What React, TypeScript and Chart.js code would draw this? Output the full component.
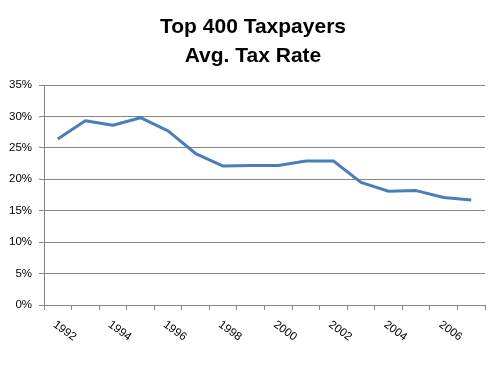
import React, { useEffect, useRef } from "react";
import { Chart, registerables } from "chart.js";

Chart.register(...registerables);

const years = ["1992","1993","1994","1995","1996","1997","1998","1999","2000","2001","2002","2003","2004","2005","2006","2007"];
const taxRate = [26.4, 29.3, 28.6, 29.8, 27.7, 24.1, 22.1, 22.2, 22.2, 22.9, 22.9, 19.5, 18.1, 18.2, 17.1, 16.7];
const shownYears = ["1992","1994","1996","1998","2000","2002","2004","2006"];
const titleLines = ["Top 400 Taxpayers", "Avg. Tax Rate"];

const FONT = "'Liberation Sans', Arial, sans-serif";
const GRID = "#868686";

const titlePlugin = {
  id: "customTitle",
  afterDraw(chart: any) {
    const ctx = chart.ctx;
    ctx.save();
    ctx.fillStyle = "#000";
    ctx.font = `bold 21px ${FONT}`;
    ctx.textAlign = "center";
    ctx.textBaseline = "alphabetic";
    ctx.fillText(titleLines[0], 253, 33);
    ctx.fillText(titleLines[1], 253, 62);
    ctx.restore();
  },
};

const xLabelPlugin = {
  id: "rotatedXLabels",
  afterDraw(chart: any) {
    const ctx = chart.ctx;
    const xs = chart.scales.x;
    ctx.save();
    ctx.fillStyle = "#000";
    ctx.font = `11.5px ${FONT}`;
    ctx.textAlign = "left";
    ctx.textBaseline = "middle";
    shownYears.forEach((y) => {
      const idx = years.indexOf(y);
      const x = xs.getPixelForValue(idx);
      ctx.save();
      ctx.translate(x - 3.5, xs.top + 18.5);
      ctx.rotate((36 * Math.PI) / 180);
      ctx.fillText(y, 0, 0);
      ctx.restore();
    });
    ctx.restore();
  },
};

export default function App() {
  const ref = useRef<HTMLCanvasElement | null>(null);
  useEffect(() => {
    if (!ref.current) return;
    const chart = new Chart(ref.current, {
      type: "line",
      data: {
        labels: years,
        datasets: [
          {
            data: taxRate,
            borderColor: "#4A7EBB",
            borderWidth: 3,
            pointRadius: 0,
            tension: 0,
            fill: false,
            borderJoinStyle: "round",
          },
        ],
      },
      options: {
        responsive: false,
        animation: false,
        events: [],
        layout: { padding: { top: 85, right: 5, left: 0, bottom: 0 } },
        plugins: { legend: { display: false }, tooltip: { enabled: false }, title: { display: false } },
        scales: {
          x: {
            type: "category",
            offset: true,
            grid: { drawOnChartArea: false, drawTicks: true, tickLength: 5, offset: true, color: GRID },
            border: { display: true, color: GRID },
            ticks: { display: false },
            afterFit: (s: any) => { s.height = 71; },
          },
          y: {
            min: 0,
            max: 35,
            grid: { color: GRID, tickLength: 5, drawTicks: true },
            border: { display: true, color: GRID },
            ticks: {
              stepSize: 5,
              padding: 7,
              color: "#000",
              font: { family: FONT, size: 11.5 },
              callback: (v: any) => `${v}%`,
            },
            afterFit: (s: any) => { s.width = 44; },
          },
        },
      },
      plugins: [titlePlugin, xLabelPlugin],
    });
    return () => chart.destroy();
  }, []);
  return (
    <div style={{ position: "absolute", left: 0, top: 0, width: 490, height: 376, background: "#fff" }}>
      <canvas ref={ref} width={490} height={376} style={{ display: "block" }} />
    </div>
  );
}
